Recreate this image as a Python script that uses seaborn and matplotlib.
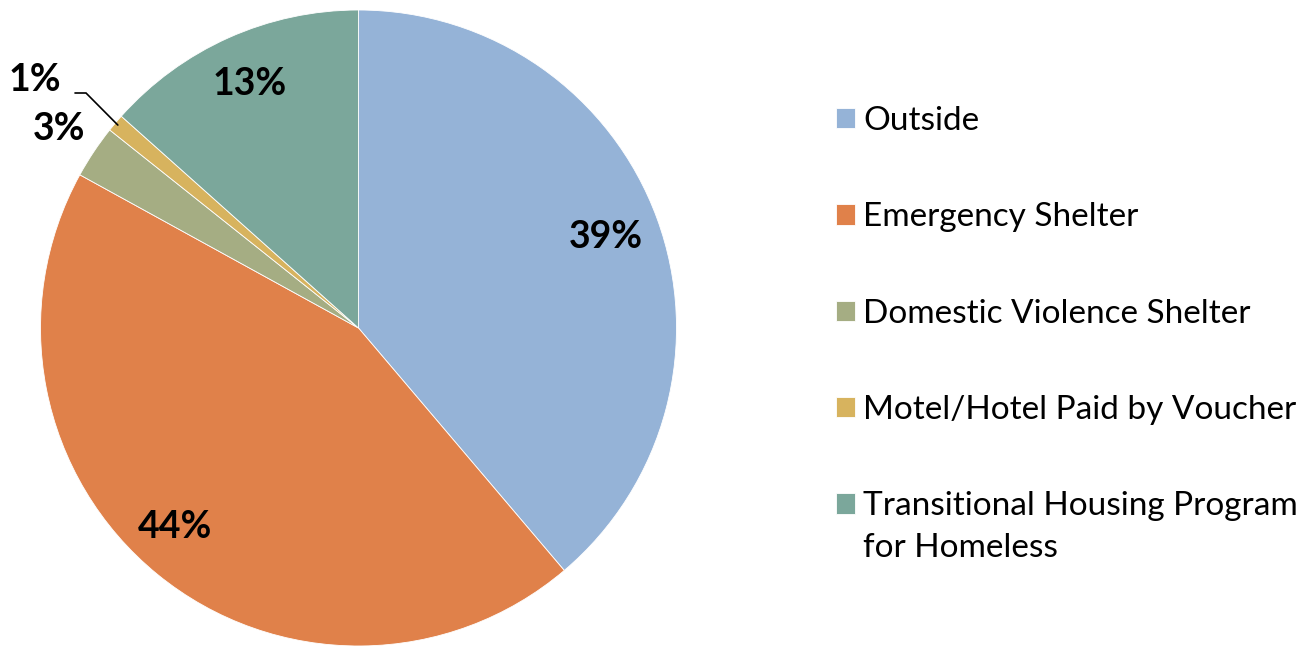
import numpy as np
import matplotlib
matplotlib.use("Agg")
import matplotlib.pyplot as plt
import seaborn as sns

categories = ["Outside", "Emergency Shelter", "Domestic Violence Shelter",
              "Motel/Hotel Paid by Voucher", "Transitional Housing Program"]
last_label_line2 = "for Homeless"
values = [38.8, 44.2, 2.7, 0.9, 13.4]
pct_labels = ["39%", "44%", "3%", "1%", "13%"]
colors = ["#95B3D7", "#E0814A", "#A5AD83", "#D7B35E", "#7BA79B"]

sns.set_theme(style="white")
plt.rcParams["font.family"] = ["Lato", "DejaVu Sans"]
plt.rcParams["text.color"] = "black"

W, H = 1303, 647
fig = plt.figure(figsize=(W / 100, H / 100), dpi=100)
cx, cy, r = 358.5, 328, 318
ax = fig.add_axes([(cx - r) / W, (H - cy - r) / H, 2 * r / W, 2 * r / H])

wedges, _ = ax.pie(values, colors=colors, startangle=90, counterclock=False,
                   radius=1, wedgeprops=dict(edgecolor="white", linewidth=0.6))
ax.set_xlim(-1, 1)
ax.set_ylim(-1, 1)
ax.set_aspect("equal")
ax.axis("off")


def px(x, y):
    return (x - cx) / r, (cy - y) / r


dist = [0.83, 0.85, 1.13, None, 0.84]
dang = [0, -3.5, 0, 0, 0]
for w, lab, d, da in zip(wedges, pct_labels, dist, dang):
    mid = np.deg2rad((w.theta1 + w.theta2) / 2)
    x, y = np.cos(mid), np.sin(mid)
    if d is not None:
        m2 = mid + np.deg2rad(da)
        ax.text(d * np.cos(m2), d * np.sin(m2), lab, ha="center", va="center",
                fontsize=27, fontweight="bold", color="black")
    else:
        tx, ty = px(35, 80)
        ax.text(tx, ty, lab, ha="center", va="center",
                fontsize=27, fontweight="bold", color="black")
        sx, sy = px(75, 93)
        ex, ey = px(86, 93)
        ax.plot([sx, ex, 0.99 * x], [sy, ey, 0.99 * y], color="black",
                lw=1.2, clip_on=False, solid_joinstyle="miter")

leg = fig.legend(wedges, categories, loc="upper left",
                 bbox_to_anchor=(836 / W, 1 - 106 / H), frameon=False,
                 fontsize=24, handlelength=0.57, handleheight=0.57,
                 handletextpad=0.25, labelspacing=1.99, borderaxespad=0,
                 borderpad=0)
for t in leg.get_texts():
    t.set_color("black")

fig.canvas.draw()
last = leg.get_texts()[-1]
bb = last.get_window_extent()
fig.text(bb.x0 / W, (bb.y0 - 42) / H, last_label_line2, fontsize=24,
         color="black", ha="left", va="bottom")

fig.savefig("out.png", dpi=100)
